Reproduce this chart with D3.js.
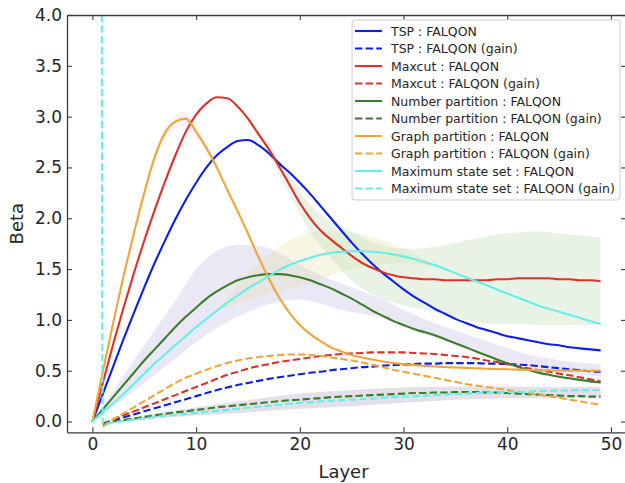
<!DOCTYPE html>
<html>
<head>
<meta charset="utf-8">
<script src="https://cdn.jsdelivr.net/npm/d3@7/dist/d3.min.js"></script>
<style>
  html, body { margin: 0; padding: 0; background: #fff; }
  svg { display: block; font-family: "DejaVu Sans", sans-serif; }
</style>
</head>
<body>
<svg id="chart" width="625" height="483"></svg>
<script>
// Layer index (x axis)
const layers = d3.range(0, 50);

// Mean beta per layer, FALQON
const tspFalqon = [0,0.27,0.54,0.81,1.07,1.32,1.56,1.78,1.99,2.18,
  2.35,2.50,2.62,2.70,2.76,2.77,2.72,2.64,2.54,2.45,
  2.35,2.24,2.12,2.00,1.88,1.76,1.65,1.55,1.46,1.38,
  1.30,1.23,1.17,1.11,1.06,1.01,0.97,0.93,0.90,0.87,
  0.84,0.82,0.80,0.78,0.76,0.75,0.73,0.72,0.71,0.70];
const maxcutFalqon = [0,0.38,0.76,1.12,1.46,1.78,2.08,2.36,2.62,2.85,
  3.02,3.13,3.19,3.18,3.10,2.98,2.83,2.68,2.51,2.33,
  2.15,2.00,1.88,1.79,1.71,1.63,1.56,1.51,1.47,1.44,
  1.42,1.41,1.40,1.40,1.39,1.39,1.39,1.39,1.39,1.40,
  1.40,1.41,1.41,1.41,1.41,1.40,1.40,1.39,1.39,1.38];
const numberFalqon = [0,0.12,0.24,0.36,0.48,0.60,0.71,0.82,0.93,1.03,
  1.12,1.21,1.28,1.34,1.39,1.42,1.44,1.45,1.45,1.44,
  1.42,1.39,1.35,1.31,1.26,1.21,1.15,1.09,1.04,0.99,
  0.95,0.91,0.88,0.85,0.81,0.77,0.73,0.69,0.65,0.61,
  0.575,0.54,0.51,0.48,0.46,0.44,0.425,0.41,0.395,0.385];
const graphFalqon = [0,0.49,0.97,1.43,1.85,2.25,2.60,2.84,2.95,2.98,
  2.85,2.69,2.50,2.28,2.07,1.85,1.62,1.41,1.22,1.07,
  0.95,0.86,0.79,0.73,0.69,0.655,0.63,0.61,0.59,0.575,
  0.565,0.555,0.548,0.542,0.536,0.532,0.528,0.524,0.52,0.517,
  0.514,0.511,0.508,0.505,0.503,0.502,0.501,0.50,0.50,0.50];
const mssFalqon = [0,0.09,0.18,0.27,0.37,0.47,0.57,0.66,0.75,0.84,
  0.93,1.01,1.09,1.17,1.24,1.31,1.37,1.43,1.49,1.54,
  1.58,1.61,1.64,1.66,1.67,1.675,1.675,1.67,1.66,1.645,
  1.625,1.60,1.57,1.54,1.50,1.46,1.42,1.38,1.34,1.30,
  1.26,1.22,1.18,1.14,1.11,1.08,1.05,1.02,0.99,0.96];

// Mean beta per layer, FALQON (gain)
const tspGain = [null,-0.02,0.01,0.04,0.07,0.10,0.13,0.16,0.19,0.22,
  0.25,0.28,0.31,0.335,0.36,0.38,0.40,0.42,0.435,0.45,
  0.465,0.48,0.49,0.505,0.515,0.525,0.535,0.54,0.55,0.555,
  0.56,0.565,0.57,0.57,0.575,0.575,0.575,0.575,0.57,0.57,
  0.565,0.56,0.555,0.545,0.535,0.525,0.515,0.505,0.495,0.49];
const maxcutGain = [null,-0.03,0.02,0.06,0.10,0.14,0.18,0.22,0.26,0.30,
  0.34,0.38,0.42,0.46,0.49,0.52,0.545,0.565,0.585,0.60,
  0.615,0.63,0.645,0.655,0.665,0.67,0.675,0.68,0.68,0.68,
  0.68,0.675,0.67,0.665,0.655,0.645,0.635,0.62,0.60,0.585,
  0.565,0.545,0.525,0.505,0.49,0.47,0.455,0.435,0.415,0.395];
const numberGain = [null,-0.02,0.0,0.015,0.03,0.045,0.06,0.075,0.09,0.10,
  0.115,0.125,0.14,0.15,0.16,0.17,0.18,0.19,0.20,0.21,
  0.215,0.225,0.23,0.24,0.245,0.25,0.255,0.26,0.265,0.27,
  0.275,0.28,0.28,0.285,0.285,0.29,0.29,0.29,0.285,0.285,
  0.28,0.275,0.27,0.265,0.26,0.255,0.25,0.25,0.245,0.245];
const graphGain = [null,-0.05,0.02,0.08,0.14,0.20,0.26,0.32,0.38,0.43,
  0.47,0.51,0.545,0.575,0.60,0.62,0.635,0.645,0.655,0.66,
  0.66,0.655,0.645,0.63,0.615,0.60,0.58,0.56,0.535,0.51,
  0.49,0.47,0.45,0.43,0.41,0.39,0.37,0.355,0.34,0.325,
  0.31,0.295,0.28,0.265,0.25,0.235,0.215,0.20,0.18,0.165];
const mssGain = [300,-0.03,-0.01,0.005,0.02,0.03,0.045,0.055,0.065,0.075,
  0.085,0.095,0.105,0.115,0.125,0.135,0.145,0.155,0.165,0.175,
  0.185,0.19,0.20,0.205,0.21,0.215,0.22,0.225,0.235,0.24,
  0.245,0.25,0.255,0.26,0.265,0.27,0.275,0.28,0.28,0.285,
  0.29,0.29,0.295,0.30,0.30,0.305,0.305,0.31,0.31,0.31];

// Spread bands (lower / upper edges)
const bandALayers = [0,2,4,6,8,10,12,14,16,18,20,22,24,26,28,30,32,34,36,38,40,42,44,46,48,49];
const bandAHigh = [0,0.30,0.60,0.90,1.19,1.50,1.68,1.74,1.73,1.66,1.54,1.44,1.36,1.28,1.20,1.10,1.01,0.93,0.86,0.79,0.72,0.66,0.62,0.59,0.57,0.56];
const bandALow  = [0,0.14,0.30,0.46,0.62,0.78,0.92,1.03,1.12,1.18,1.20,1.16,1.10,1.06,1.02,0.93,0.86,0.79,0.72,0.65,0.59,0.54,0.50,0.47,0.45,0.44];

const bandBLayers = [15,17,19,21,23,25,27,29,31,33,35,37,39,41,43,45,47,49];
const bandBHigh = [3.00,2.73,2.42,2.13,1.97,1.87,1.77,1.71,1.70,1.72,1.76,1.80,1.84,1.86,1.87,1.85,1.83,1.81];
const bandBLow  = [2.96,2.63,2.24,1.87,1.61,1.39,1.25,1.17,1.12,1.08,1.02,0.98,0.96,0.96,0.95,0.95,0.95,0.95];

const bandCLayers = [12,14,16,18,20,22,24,26,28,30,32,34];
const bandCHigh = [1.09,1.34,1.55,1.72,1.83,1.87,1.87,1.84,1.78,1.70,1.60,1.50];
const bandCLow  = [1.09,1.16,1.22,1.28,1.33,1.40,1.47,1.52,1.55,1.56,1.54,1.50];

const bandDLayers = [1,5,10,15,20,25,30,35,40,45,49];
const bandDHigh = [-0.025,0.06,0.14,0.21,0.275,0.31,0.335,0.345,0.345,0.34,0.34];
const bandDLow  = [-0.025,0.02,0.06,0.09,0.125,0.15,0.185,0.215,0.23,0.235,0.24];

const bandELayers = [5,6,7,8,9,10,11,12];
const bandEHigh = [2.29,2.65,2.90,3.02,3.05,2.92,2.74,2.53];
const bandELow  = [2.21,2.55,2.78,2.88,2.91,2.78,2.64,2.47];

const xTicks = [0, 10, 20, 30, 40, 50];
const yTicks = [0, 0.5, 1.0, 1.5, 2.0, 2.5, 3.0, 3.5, 4.0];

const seriesNames = [
  "TSP : FALQON", "TSP : FALQON (gain)",
  "Maxcut : FALQON", "Maxcut : FALQON (gain)",
  "Number partition : FALQON", "Number partition : FALQON (gain)",
  "Graph partition : FALQON", "Graph partition : FALQON (gain)",
  "Maximum state set : FALQON", "Maximum state set : FALQON (gain)"
];
const seriesValues = [tspFalqon, tspGain, maxcutFalqon, maxcutGain, numberFalqon, numberGain,
  graphFalqon, graphGain, mssFalqon, mssGain];
const seriesColors = ["#0b1ef0", "#0b1ef0", "#e0302a", "#e0302a", "#3b7d2c", "#3b7d2c",
  "#f0a53a", "#f0a53a", "#66efe6", "#66efe6"];
const seriesDashed = [false, true, false, true, false, true, false, true, false, true];

const bands = [
  { layers: bandALayers, low: bandALow, high: bandAHigh, fill: "#cfc9e6", opacity: 0.42 },
  { layers: bandCLayers, low: bandCLow, high: bandCHigh, fill: "#e2dda0", opacity: 0.28 },
  { layers: bandBLayers, low: bandBLow, high: bandBHigh, fill: "#b8dbb0", opacity: 0.33 },
  { layers: bandDLayers, low: bandDLow, high: bandDHigh, fill: "#b8b2c8", opacity: 0.4 },
  { layers: bandELayers, low: bandELow, high: bandEHigh, fill: "#f0b0c4", opacity: 0.16 }
];

const svg = d3.select("#chart");
const plotLeft = 67, plotRight = 626, plotTop = 15, plotBottom = 432.3;

const x = d3.scaleLinear().domain([-2.45, 51.45]).range([plotLeft, plotRight]);
const y = d3.scaleLinear().domain([-0.106, 4.0]).range([plotBottom, plotTop]);

svg.append("defs").append("clipPath").attr("id", "plotClip")
  .append("rect").attr("x", plotLeft).attr("y", plotTop)
  .attr("width", plotRight - plotLeft).attr("height", plotBottom - plotTop);

const plot = svg.append("g").attr("clip-path", "url(#plotClip)");

// Spread bands
bands.forEach(b => {
  const area = d3.area()
    .x((d, i) => x(b.layers[i]))
    .y0((d, i) => y(b.low[i]))
    .y1((d, i) => y(b.high[i]))
    .curve(d3.curveMonotoneX);
  plot.append("path")
    .datum(b.layers)
    .attr("d", area)
    .attr("fill", b.fill)
    .attr("fill-opacity", b.opacity)
    .attr("stroke", "none");
});

// Lines
const line = d3.line()
  .defined(d => d[1] !== null)
  .x(d => x(d[0]))
  .y(d => y(d[1]))
  .curve(d3.curveMonotoneX);

seriesValues.forEach((vals, k) => {
  plot.append("path")
    .datum(layers.map((l, i) => [l, vals[i]]))
    .attr("d", line)
    .attr("fill", "none")
    .attr("stroke", seriesColors[k])
    .attr("stroke-width", 2.1)
    .attr("stroke-linejoin", "round")
    .attr("stroke-dasharray", seriesDashed[k] ? "7.4,3.2" : null);
});

// Axes with inward ticks
const axisColor = "#3a3a3a";
function styleAxis(g) {
  g.select(".domain").attr("stroke", axisColor).attr("stroke-width", 1.3);
  g.selectAll(".tick line").attr("stroke", axisColor).attr("stroke-width", 1.1);
  g.selectAll(".tick text").attr("fill", "#262626").style("font-size", "17px")
    .style("font-family", "DejaVu Sans, sans-serif");
}
svg.append("g").attr("transform", `translate(0,${plotBottom})`)
  .call(d3.axisBottom(x).tickValues(xTicks).tickFormat(d3.format("d")).tickSize(-5).tickSizeOuter(0).tickPadding(6))
  .call(styleAxis);
svg.append("g").attr("transform", `translate(0,${plotTop})`)
  .call(d3.axisTop(x).tickValues(xTicks).tickFormat("").tickSize(-5).tickSizeOuter(0))
  .call(styleAxis);
svg.append("g").attr("transform", `translate(${plotLeft},0)`)
  .call(d3.axisLeft(y).tickValues(yTicks).tickFormat(d3.format(".1f")).tickSize(-5).tickSizeOuter(0).tickPadding(5))
  .call(styleAxis);
svg.append("g").attr("transform", `translate(${plotRight},0)`)
  .call(d3.axisRight(y).tickValues(yTicks).tickFormat("").tickSize(-5).tickSizeOuter(0))
  .call(styleAxis);

// Axis titles
svg.append("text").attr("x", (plotLeft + plotRight) / 2 - 3).attr("y", 478)
  .attr("text-anchor", "middle").attr("fill", "#262626")
  .style("font-size", "18px").text("Layer");
svg.append("text").attr("transform", `translate(23,${(plotTop + plotBottom) / 2}) rotate(-90)`)
  .attr("text-anchor", "middle").attr("fill", "#262626")
  .style("font-size", "18px").text("Beta");

// Legend
const lg = svg.append("g");
const lx = 352, ly = 20, rowH = 17.5;
lg.append("rect").attr("x", lx).attr("y", ly).attr("width", 268).attr("height", 180)
  .attr("rx", 3).attr("fill", "#fff").attr("fill-opacity", 0.85)
  .attr("stroke", "#cccccc").attr("stroke-width", 1);
seriesNames.forEach((name, k) => {
  const cy = ly + 11 + k * rowH;
  lg.append("line").attr("x1", lx + 3).attr("x2", lx + 30).attr("y1", cy).attr("y2", cy)
    .attr("stroke", seriesColors[k]).attr("stroke-width", 2.1)
    .attr("stroke-dasharray", seriesDashed[k] ? "7.4,3.2" : null);
  lg.append("text").attr("x", lx + 39).attr("y", cy).attr("dy", "0.36em")
    .attr("fill", "#262626").style("font-size", "12.5px").text(name);
});
</script>
</body>
</html>
